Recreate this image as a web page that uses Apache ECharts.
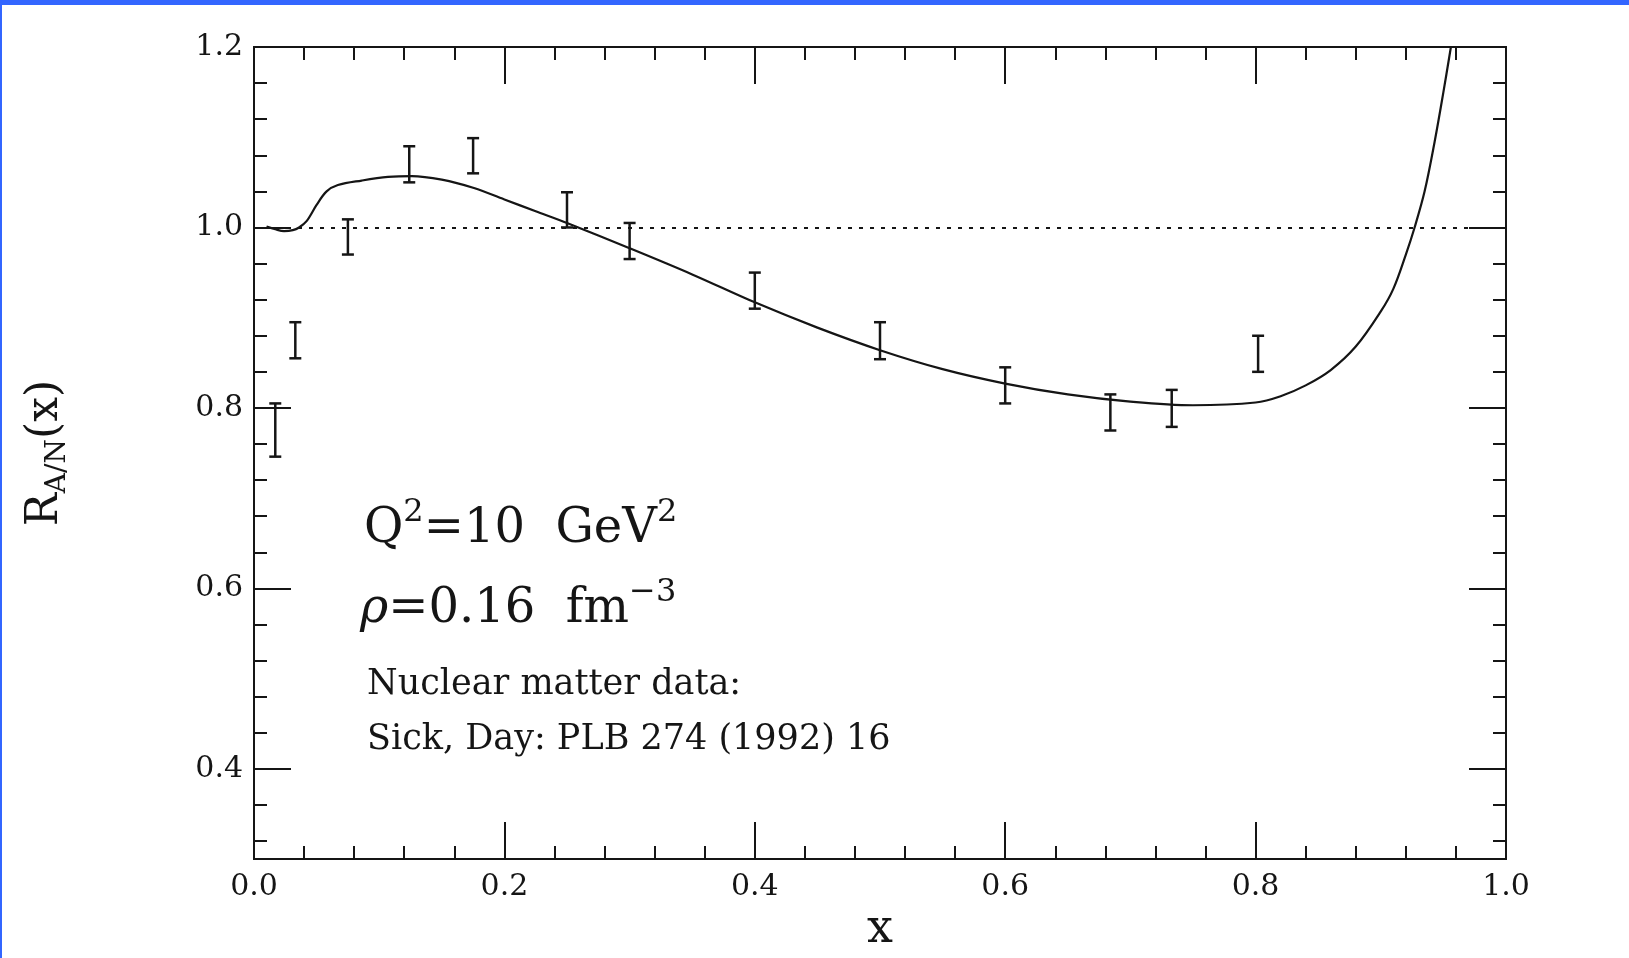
<!DOCTYPE html>
<html>
<head>
<meta charset="utf-8">
<title>R A/N (x)</title>
<script src="https://cdn.jsdelivr.net/npm/echarts@6/dist/echarts.min.js"></script>
<style>
  html, body { margin: 0; padding: 0; background: #fff; }
  #chart { width: 1629px; height: 958px; }
</style>
</head>
<body>
<div id="chart"></div>
<script>
// theory curve
const curveX = [0.010, 0.017, 0.024, 0.031, 0.036, 0.042, 0.050, 0.058, 0.067, 0.086,
  0.107, 0.126, 0.150, 0.175, 0.200, 0.225, 0.250, 0.300, 0.350, 0.400,
  0.450, 0.500, 0.550, 0.600, 0.650, 0.700, 0.750, 0.800, 0.820, 0.840,
  0.860, 0.880, 0.900, 0.910, 0.920, 0.927, 0.935, 0.943, 0.950, 0.956];
const curveY = [1.001, 0.998, 0.996, 0.997, 1.000, 1.007, 1.025, 1.040, 1.047, 1.052,
  1.056, 1.057, 1.053, 1.044, 1.031, 1.018, 1.005, 0.977, 0.948, 0.917,
  0.889, 0.864, 0.843, 0.827, 0.815, 0.807, 0.803, 0.806, 0.813, 0.825,
  0.842, 0.868, 0.907, 0.932, 0.970, 1.000, 1.040, 1.095, 1.150, 1.200];

// nuclear matter data (Sick, Day): x, lower and upper end of the error bar
const dataX    = [0.017, 0.033, 0.075, 0.124, 0.175, 0.250, 0.300, 0.400, 0.500, 0.600, 0.684, 0.733, 0.802];
const dataLow  = [0.746, 0.855, 0.970, 1.050, 1.060, 1.000, 0.965, 0.910, 0.854, 0.805, 0.775, 0.779, 0.840];
const dataHigh = [0.805, 0.895, 1.009, 1.090, 1.099, 1.039, 1.005, 0.950, 0.895, 0.845, 0.815, 0.820, 0.880];

const refLine = 1.0;
const yTicks = [0.4, 0.6, 0.8, 1.0, 1.2];
const yMinorStep = 0.04;

const yMinor = [];
for (let v = 0.32; v < 1.2; v += yMinorStep) {
  const r = Math.round(v * 100) / 100;
  if (!yTicks.some(t => Math.abs(t - r) < 1e-6)) yMinor.push(r);
}

const ink = '#151515';
const serif = '"DejaVu Serif", serif';
const axisLineStyle = { color: ink, width: 2 };

function xAxis(position, withLabels) {
  return {
    type: 'value', position: position, min: 0, max: 1, interval: 0.2,
    axisLine: { onZero: false, lineStyle: axisLineStyle },
    axisTick: { inside: true, length: 37, lineStyle: axisLineStyle },
    minorTick: { show: true, splitNumber: 5, length: 13, lineStyle: axisLineStyle },
    splitLine: { show: false },
    axisLabel: {
      show: withLabels, margin: 13, color: ink, fontFamily: serif, fontSize: 30,
      formatter: v => v.toFixed(1)
    },
    name: withLabels ? 'x' : '',
    nameLocation: 'middle', nameGap: 39,
    nameTextStyle: { color: ink, fontFamily: serif, fontSize: 46 }
  };
}

function yAxis(position, ticks, len, withLabels) {
  return {
    type: 'value', position: position, min: 0.3, max: 1.2,
    axisLine: { onZero: false, lineStyle: axisLineStyle },
    axisTick: { inside: true, length: len, customValues: ticks, lineStyle: axisLineStyle },
    splitLine: { show: false },
    axisLabel: {
      show: withLabels, customValues: ticks, margin: 11, color: ink,
      fontFamily: serif, fontSize: 30, formatter: v => v.toFixed(1)
    }
  };
}

const yMain = yAxis('left', yTicks, 37, true);
yMain.name = '{r|R}{sub|A/N}{r|(x)}';
yMain.nameLocation = 'middle';
yMain.nameGap = 182;
yMain.nameTextStyle = {
  rich: {
    r: { fontFamily: serif, fontSize: 44, color: ink, lineHeight: 52 },
    sub: { fontFamily: serif, fontSize: 28, color: ink, verticalAlign: 'bottom', lineHeight: 40 }
  }
};

const chart = echarts.init(document.getElementById('chart'));

const big = { fontFamily: serif, fontSize: 48, fill: ink, lineHeight: 66 };
const sup = { fontFamily: serif, fontSize: 32, fill: ink, lineHeight: 33, verticalAlign: 'top' };
const small = { fontFamily: serif, fontSize: 35, fill: ink };

chart.setOption({
  animation: false,
  backgroundColor: '#fff',
  grid: { left: 254, right: 123, top: 47, bottom: 91 },
  xAxis: [xAxis('bottom', true), xAxis('top', false)],
  yAxis: [
    yMain,
    yAxis('left', yMinor, 13, false),
    yAxis('right', yTicks, 37, false),
    yAxis('right', yMinor, 13, false)
  ],
  series: [
    {
      name: 'theory',
      type: 'line',
      xAxisIndex: 0, yAxisIndex: 0,
      data: curveX.map((x, i) => [x, curveY[i]]),
      showSymbol: false,
      smooth: 0.35,
      lineStyle: { color: ink, width: 2.2 },
      markLine: {
        silent: true,
        symbol: ['none', 'none'],
        label: { show: false },
        lineStyle: { color: ink, width: 2, type: [4, 7] },
        data: [{ yAxis: refLine }]
      },
      z: 3
    },
    {
      name: 'nuclear matter data',
      type: 'custom',
      xAxisIndex: 0, yAxisIndex: 0,
      data: dataX.map((x, i) => [x, dataLow[i], dataHigh[i]]),
      encode: { x: 0, y: [1, 2] },
      renderItem: function (params, api) {
        const lo = api.coord([api.value(0), api.value(1)]);
        const hi = api.coord([api.value(0), api.value(2)]);
        const w = 6;
        const style = { stroke: ink, lineWidth: 2.5 };
        return {
          type: 'group',
          children: [
            { type: 'line', shape: { x1: lo[0], y1: lo[1], x2: hi[0], y2: hi[1] }, style: style },
            { type: 'line', shape: { x1: hi[0] - w, y1: hi[1], x2: hi[0] + w, y2: hi[1] }, style: style },
            { type: 'line', shape: { x1: lo[0] - w, y1: lo[1], x2: lo[0] + w, y2: lo[1] }, style: style }
          ]
        };
      },
      z: 4
    }
  ],
  graphic: [
    { type: 'rect', shape: { x: 0, y: 0, width: 1629, height: 5 }, style: { fill: '#3366ff' } },
    { type: 'rect', shape: { x: 0, y: 0, width: 2, height: 958 }, style: { fill: '#3366ff' } },
    {
      type: 'text', x: 364, y: 530,
      style: {
        text: '{m|Q}{s|2}{m|=10  GeV}{s|2}',
        rich: { m: big, s: sup },
        verticalAlign: 'middle'
      }
    },
    {
      type: 'text', x: 360, y: 610,
      style: {
        text: '{i|ρ}{m|=0.16  fm}{s|−3}',
        rich: { m: big, s: sup, i: Object.assign({}, big, { fontStyle: 'italic' }) },
        verticalAlign: 'middle'
      }
    },
    {
      type: 'text', x: 367, y: 685,
      style: Object.assign({ text: 'Nuclear matter data:', verticalAlign: 'middle' }, small)
    },
    {
      type: 'text', x: 367, y: 740,
      style: Object.assign({ text: 'Sick, Day: PLB 274 (1992) 16', verticalAlign: 'middle' }, small)
    }
  ]
});
</script>
</body>
</html>
